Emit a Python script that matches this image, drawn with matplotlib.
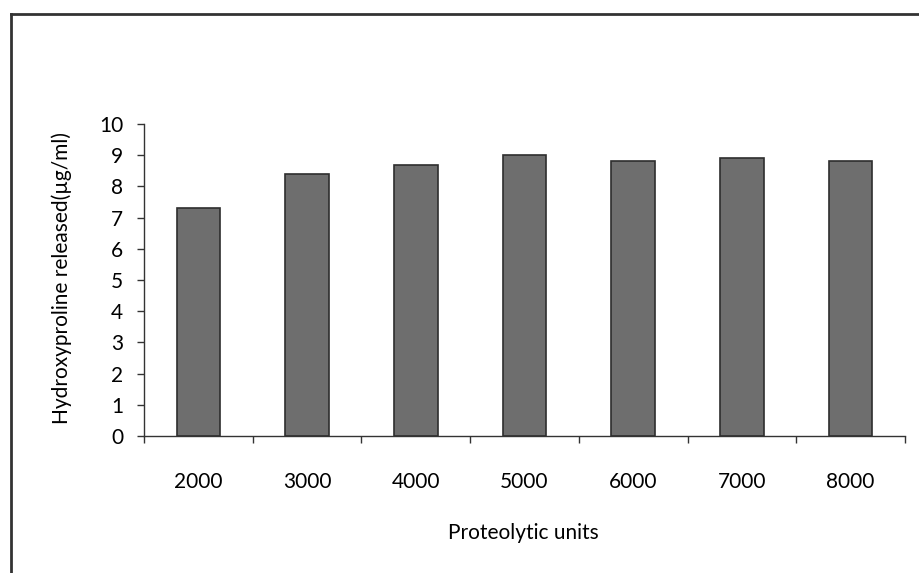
import matplotlib.pyplot as plt
from matplotlib.lines import Line2D

units = ['2000', '3000', '4000', '5000', '6000', '7000', '8000']
hydroxyproline = [7.3, 8.4, 8.7, 9.0, 8.8, 8.9, 8.8]
y_ticks = list(range(0, 11))

plt.rcParams['font.family'] = ['Lato', 'DejaVu Sans']

fig = plt.figure(figsize=(9.2, 5.73), dpi=100)
ax = fig.add_axes([144 / 920, 1 - 436 / 573, (905 - 144) / 920, (436 - 124) / 573])

x = list(range(len(units)))
ax.bar(x, hydroxyproline, width=0.4, color='#6e6e6e', edgecolor='#2e2e2e', linewidth=1.2)

ax.set_xlim(-0.5, len(units) - 0.5)
ax.set_ylim(0, 10)
ax.set_yticks(y_ticks)
ax.tick_params(axis='y', direction='out', length=5, width=1, pad=10, labelsize=15, color='#333333')

# ticks sit between categories, labels under the bars
ax.set_xticks([i - 0.5 for i in range(len(units) + 1)])
ax.set_xticklabels([])
ax.set_xticks(x, minor=True)
ax.set_xticklabels(units, minor=True)
ax.tick_params(axis='x', which='major', direction='out', length=5, width=1, color='#333333')
ax.tick_params(axis='x', which='minor', length=0, pad=26, labelsize=15)

for side in ['top', 'right']:
    ax.spines[side].set_visible(False)
for side in ['left', 'bottom']:
    ax.spines[side].set_color('#333333')
    ax.spines[side].set_linewidth(1)

fig.text(523 / 920, 1 - 533 / 573, 'Proteolytic units', ha='center', va='center', fontsize=15)
fig.text(62 / 920, 1 - 278 / 573, 'Hydroxyproline released(µg/ml)', ha='center', va='center',
         rotation=90, fontsize=15)

# outer frame of the scanned chart
fig.add_artist(Line2D([11 / 920, 11 / 920], [0, 1 - 14 / 573], transform=fig.transFigure,
                      color='#333333', linewidth=2))
fig.add_artist(Line2D([11 / 920, 1], [1 - 14 / 573, 1 - 14 / 573], transform=fig.transFigure,
                      color='#333333', linewidth=2))

fig.savefig('out.png', dpi=100)
